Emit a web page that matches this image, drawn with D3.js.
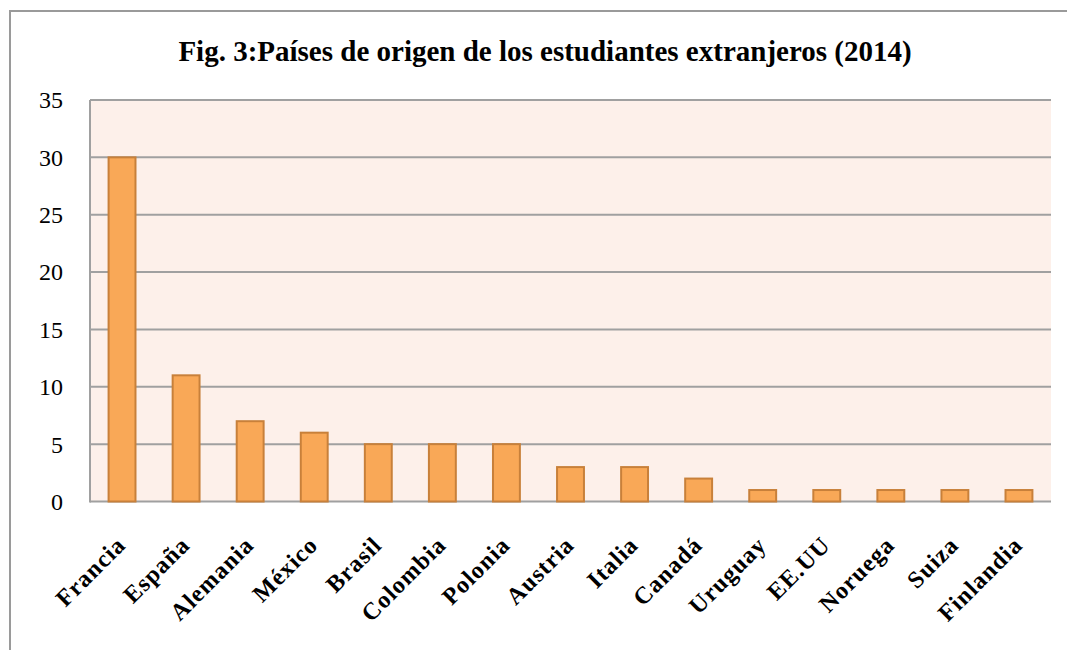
<!DOCTYPE html>
<html><head><meta charset="utf-8">
<script src="https://cdn.jsdelivr.net/npm/d3@7"></script>
<style>body{margin:0;background:#fff;}svg{display:block;}</style>
</head><body>
<script>
const categories = ["Francia","España","Alemania","México","Brasil","Colombia","Polonia","Austria","Italia","Canadá","Uruguay","EE.UU","Noruega","Suiza","Finlandia"];
const values = [30,11,7,6,5,5,5,3,3,2,1,1,1,1,1];
const yTicks = [0,5,10,15,20,25,30,35];
const title = "Fig. 3:Países de origen de los estudiantes extranjeros (2014)";

const W = 1067, H = 650;
const svg = d3.select("body").append("svg").attr("width", W).attr("height", H);
const serif = "'Liberation Serif','Times New Roman',serif";

// outer frame
svg.append("rect").attr("x",10).attr("y",11).attr("width",W+20).attr("height",H+20)
  .attr("fill","#fff").attr("stroke","#9a9a9a").attr("stroke-width",2);

const L = 90, R = 1051, T = 100, B = 501.5;
const x = d3.scaleBand().domain(categories).range([L,R]).paddingInner(0.58).paddingOuter(0.29);
const y = d3.scaleLinear().domain([0,35]).range([B,T]);

svg.append("rect").attr("x",L).attr("y",T).attr("width",R-L).attr("height",B-T).attr("fill","#FDF0EA");

// gridlines
svg.append("g").selectAll("line").data(yTicks).join("line")
  .attr("x1",L).attr("x2",R).attr("y1",d=>y(d)).attr("y2",d=>y(d))
  .attr("stroke","#a0a0a0").attr("stroke-width",2);
svg.append("line").attr("x1",L).attr("x2",L).attr("y1",T).attr("y2",B+1)
  .attr("stroke","#a0a0a0").attr("stroke-width",2);

// y labels
svg.append("g").selectAll("text").data(yTicks).join("text")
  .attr("x",63).attr("y",d=>y(d)).attr("dy","0.35em").attr("text-anchor","end")
  .attr("font-family",serif).attr("font-size",24).attr("fill","#000").text(d=>d);

// bars
svg.append("g").selectAll("rect").data(values).join("rect")
  .attr("x",(d,i)=>x(categories[i])).attr("width",x.bandwidth())
  .attr("y",d=>y(d)).attr("height",d=>y(0)-y(d))
  .attr("fill","#F9A857").attr("stroke","#C8803A").attr("stroke-width",2);

// x labels
svg.append("g").selectAll("text").data(categories).join("text")
  .attr("transform",d=>`translate(${x(d)+x.bandwidth()/2+5},${B+45}) rotate(-45)`)
  .attr("text-anchor","end")
  .attr("font-family",serif).attr("font-weight","bold").attr("font-size",24)
  .attr("letter-spacing","1px").attr("fill","#000")
  .text(d=>d);

// title
svg.append("text").attr("x",545).attr("y",61).attr("text-anchor","middle")
  .attr("font-family",serif).attr("font-weight","bold").attr("font-size",29).attr("fill","#000")
  .text(title);
</script>
</body></html>
